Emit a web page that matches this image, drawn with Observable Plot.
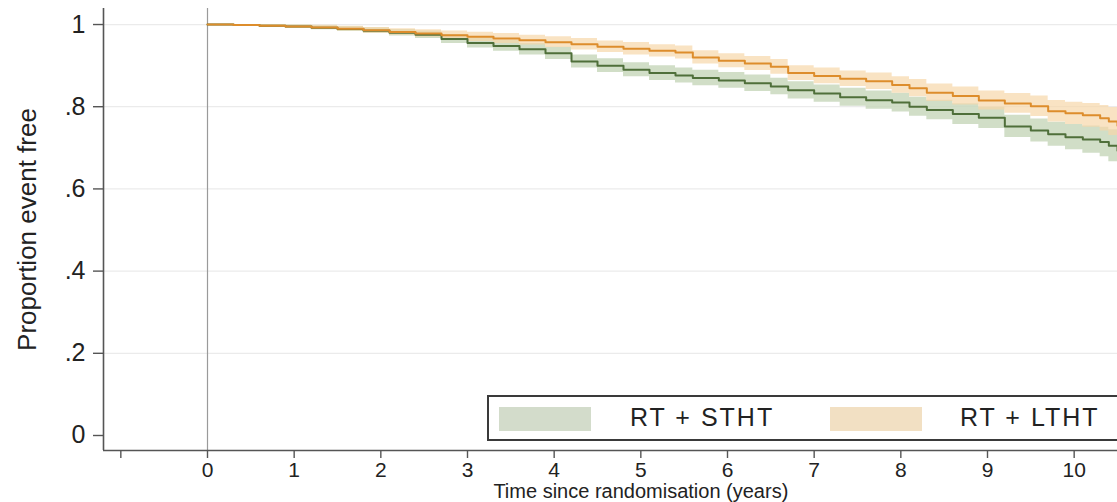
<!DOCTYPE html>
<html>
<head>
<meta charset="utf-8">
<script src="https://cdn.jsdelivr.net/npm/d3@7"></script>
<script src="https://cdn.jsdelivr.net/npm/@observablehq/plot@0.6"></script>
<style>
  html, body { margin: 0; padding: 0; background: #fff; }
  #wrap { position: relative; width: 1117px; height: 502px; overflow: hidden; font-family: "Liberation Sans", Arial, sans-serif; }
  #legend { position: absolute; left: 487px; top: 395px; width: 660px; height: 42px; border: 2px solid #3a3a3a; background: #fff; box-sizing: content-box; }
  .sw { position: absolute; top: 10px; width: 92px; height: 24px; }
  .lt { position: absolute; top: 6px; font-size: 25px; letter-spacing: 2px; color: #222; white-space: nowrap; }
</style>
</head>
<body>
<div id="wrap"></div>
<script>
// Time points (years since randomisation)
const times = [0, 0.3, 0.6, 0.9, 1.2, 1.5, 1.8, 2.1, 2.4, 2.7, 3.0, 3.3, 3.6, 3.9, 4.2, 4.5, 4.8, 5.1, 5.4, 5.6, 5.9, 6.2, 6.5, 6.7, 7.0, 7.3, 7.6, 7.9, 8.1, 8.3, 8.6, 8.9, 9.2, 9.5, 9.7, 9.9, 10.1, 10.3, 10.4, 10.5];

// RT + STHT (green)
const sthtSurv = [1.0, 0.999, 0.997, 0.995, 0.992, 0.989, 0.985, 0.980, 0.975, 0.965, 0.955, 0.948, 0.940, 0.930, 0.910, 0.900, 0.890, 0.882, 0.876, 0.870, 0.864, 0.857, 0.849, 0.840, 0.832, 0.823, 0.816, 0.810, 0.800, 0.792, 0.782, 0.773, 0.752, 0.742, 0.733, 0.726, 0.720, 0.714, 0.705, 0.693];
const sthtLo = [1.0, 0.997, 0.994, 0.991, 0.987, 0.983, 0.978, 0.972, 0.966, 0.954, 0.943, 0.935, 0.926, 0.915, 0.894, 0.883, 0.873, 0.864, 0.858, 0.851, 0.845, 0.837, 0.829, 0.819, 0.811, 0.801, 0.794, 0.787, 0.777, 0.768, 0.757, 0.747, 0.725, 0.714, 0.704, 0.695, 0.687, 0.678, 0.666, 0.648];
const sthtHi = [1.0, 1.0, 1.0, 0.999, 0.997, 0.995, 0.992, 0.988, 0.984, 0.976, 0.967, 0.961, 0.954, 0.945, 0.926, 0.917, 0.907, 0.900, 0.894, 0.889, 0.883, 0.877, 0.869, 0.861, 0.853, 0.845, 0.838, 0.833, 0.823, 0.816, 0.807, 0.799, 0.779, 0.770, 0.762, 0.757, 0.753, 0.750, 0.744, 0.738];

// RT + LTHT (orange)
const lthtSurv = [1.0, 0.999, 0.997, 0.995, 0.993, 0.990, 0.986, 0.982, 0.978, 0.974, 0.970, 0.966, 0.962, 0.957, 0.952, 0.946, 0.941, 0.936, 0.932, 0.920, 0.912, 0.905, 0.897, 0.882, 0.875, 0.868, 0.862, 0.853, 0.845, 0.834, 0.826, 0.815, 0.808, 0.801, 0.789, 0.784, 0.779, 0.772, 0.764, 0.754];
const lthtLo = [1.0, 0.997, 0.994, 0.991, 0.988, 0.984, 0.979, 0.974, 0.969, 0.964, 0.959, 0.954, 0.950, 0.944, 0.938, 0.932, 0.926, 0.921, 0.916, 0.904, 0.895, 0.888, 0.879, 0.864, 0.856, 0.849, 0.842, 0.833, 0.824, 0.813, 0.804, 0.792, 0.784, 0.776, 0.763, 0.757, 0.750, 0.741, 0.730, 0.716];
const lthtHi = [1.0, 1.0, 1.0, 0.999, 0.998, 0.996, 0.993, 0.990, 0.987, 0.984, 0.981, 0.978, 0.974, 0.970, 0.966, 0.960, 0.956, 0.951, 0.948, 0.936, 0.929, 0.922, 0.915, 0.900, 0.894, 0.887, 0.882, 0.873, 0.866, 0.855, 0.848, 0.838, 0.832, 0.826, 0.815, 0.811, 0.808, 0.803, 0.798, 0.792];

const groups = ["RT + STHT", "RT + LTHT"];
const xTicks = [-1, 0, 1, 2, 3, 4, 5, 6, 7, 8, 9, 10];
const xTickLabels = ["", "0", "1", "2", "3", "4", "5", "6", "7", "8", "9", "10"];
const yTicks = [0, 0.2, 0.4, 0.6, 0.8, 1];
const yTickLabels = ["0", ".2", ".4", ".6", ".8", "1"];
const xTitle = "Time since randomisation (years)";
const yTitle = "Proportion event free";

const xDomain = [-1.2, 10.5];
const yDomain = [-0.0365, 1.039];

const sthtRows = times.map((t, i) => ({t, s: sthtSurv[i], lo: sthtLo[i], hi: sthtHi[i]}));
const lthtRows = times.map((t, i) => ({t, s: lthtSurv[i], lo: lthtLo[i], hi: lthtHi[i]}));

const green = "#4f6f3a", greenBand = "#c9d8bd";
const orange = "#dd8d2c", orangeBand = "#f6d7aa";

const chart = Plot.plot({
  width: 1117,
  height: 502,
  marginLeft: 103,
  marginRight: 0,
  marginTop: 8,
  marginBottom: 52,
  style: {fontFamily: "'Liberation Sans', Arial, sans-serif", background: "#fff", color: "#222"},
  x: {domain: xDomain},
  y: {domain: yDomain},
  marks: [
    Plot.ruleY(yTicks.slice(1), {stroke: "#ebebeb", strokeWidth: 1.2}),
    Plot.ruleX([0], {stroke: "#9a9a9a", strokeWidth: 1.2}),
    Plot.areaY(sthtRows, {x: "t", y1: "lo", y2: "hi", curve: "step-after", fill: greenBand, fillOpacity: 0.85}),
    Plot.areaY(lthtRows, {x: "t", y1: "lo", y2: "hi", curve: "step-after", fill: orangeBand, fillOpacity: 0.7}),
    Plot.line(sthtRows, {x: "t", y: "s", curve: "step-after", stroke: green, strokeWidth: 2}),
    Plot.line(lthtRows, {x: "t", y: "s", curve: "step-after", stroke: orange, strokeWidth: 2}),
    Plot.ruleX([xDomain[0]], {stroke: "#555", strokeWidth: 1.6}),
    Plot.ruleY([yDomain[0]], {stroke: "#555", strokeWidth: 1.6}),
    Plot.axisY(yTicks, {tickSize: 10, tickPadding: 8, fontSize: 25, stroke: "#555", strokeWidth: 1.4, tickFormat: d => yTickLabels[yTicks.indexOf(d)], label: null}),
    Plot.axisX(xTicks, {tickSize: 8, tickPadding: 4, fontSize: 21, stroke: "#555", strokeWidth: 1.4, tickFormat: d => xTickLabels[xTicks.indexOf(d)], label: null}),
    Plot.text([xTitle], {x: 5, frameAnchor: "bottom", dy: 47, lineAnchor: "bottom", fontSize: 20, fill: "#222", textAnchor: "middle"}),
    Plot.text([yTitle], {frameAnchor: "left", dx: -76, dy: 0, rotate: -90, fontSize: 26, fill: "#222", textAnchor: "middle"})
  ]
});

const wrap = document.getElementById("wrap");
wrap.appendChild(chart);

const legend = document.createElement("div");
legend.id = "legend";
legend.innerHTML =
  `<div class="sw" style="left:10px;background:#d3dccb"></div>` +
  `<div class="lt" style="left:141px">${groups[0]}</div>` +
  `<div class="sw" style="left:341px;background:#f2e0c3"></div>` +
  `<div class="lt" style="left:471px">${groups[1]}</div>`;
wrap.appendChild(legend);
</script>
</body>
</html>
